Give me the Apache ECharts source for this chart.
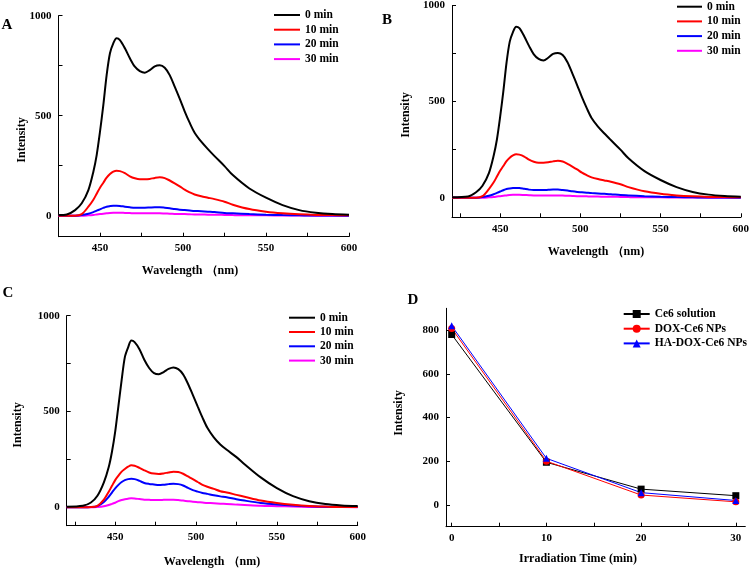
<!DOCTYPE html>
<html>
<head>
<meta charset="utf-8">
<script src="https://cdn.jsdelivr.net/npm/echarts@6/dist/echarts.min.js"></script>
<style>html,body{margin:0;padding:0;background:#fff}#c{width:752px;height:570px}</style>
</head>
<body>
<div id="c"></div>
<script>
// ---- Panel A / B / C wavelength grids (nm) ----
const W_A = [425,430,435,439,443,446,448,450,452,454,456,458,460,462,465,468,471,474,477,480,483,486,489,492,495,498,501,504,507,511,515,519,525,530,540,550,560,570,580,590,600];
const W_B = [420,430,435,439,443,446,448,450,452,454,456,458,460,462,465,468,471,474,477,480,483,486,489,492,495,498,501,504,507,511,515,519,525,530,540,550,560,570,580,590,600];
const W_C = [420,430,435,439,443,446,448,450,452,454,456,458,460,462,465,468,471,474,477,480,483,486,489,492,495,498,501,504,507,511,515,519,525,530,540,550,560,570,580,590,600];

const A_0min  = [3,6,28,62,128,220,303,420,553,703,812,862,887,878,837,787,745,723,715,728,747,752,740,703,645,585,522,465,415,370,333,298,248,203,136,90,53,28,15,8,5];
const A_10min = [0,0,0,8,45,80,110,140,165,190,208,220,225,223,213,197,187,182,182,184,189,192,188,176,162,147,130,117,106,97,90,83,70,55,33,20,12,7,4,3,2];
const A_20min = [0,0,0,3,10,18,25,32,39,45,48,50,50,49,45,42,40,40,40,41,42,42,40,37,33,30,28,26,24,22,20,18,14,12,8,5,3,2,1,1,0];
const A_30min = [0,0,0,0,2,4,6,8,10,12,14,15,15,15,14,13,12,12,12,12,12,12,11,10,9,8,8,7,6,6,5,5,4,3,2,2,1,1,0,0,0];

const B_0min  = [2,6,28,62,128,220,303,420,553,703,812,862,890,882,840,790,746,722,714,728,748,753,742,705,647,586,523,466,415,370,334,300,250,205,138,92,55,30,16,9,5];
const B_10min = [0,0,0,8,45,80,110,140,165,190,208,220,226,224,214,198,187,182,182,184,189,192,188,176,162,147,130,117,106,97,90,83,70,55,33,20,12,7,4,3,2];
const B_20min = [0,0,0,3,10,18,25,32,39,45,48,50,51,50,46,42,40,40,40,41,42,42,40,37,33,30,28,26,24,22,20,18,14,12,8,5,3,2,1,1,0];
const B_30min = [0,0,0,0,2,4,6,8,10,12,14,15,15,15,14,13,12,12,12,12,12,12,11,10,9,8,8,7,6,6,5,5,4,3,2,2,1,1,0,0,0];

const C_0min  = [3,8,25,60,130,210,290,395,530,665,785,835,870,862,825,770,727,700,694,706,722,730,721,694,645,587,527,468,415,365,328,300,262,225,156,100,58,32,17,10,7];
const C_10min = [0,0,1,8,40,81,112,142,165,186,200,212,219,217,206,193,182,176,174,177,182,186,184,175,161,147,132,117,107,96,84,77,65,55,35,22,13,7,4,2,2];
const C_20min = [0,0,1,6,28,55,77,99,117,132,142,147,149,147,138,127,122,119,116,118,121,123,121,114,101,90,82,75,70,63,57,52,42,35,23,15,9,5,3,2,1];
const C_30min = [0,0,0,2,6,12,18,24,32,38,42,45,47,46,43,40,39,38,38,39,40,40,38,35,32,29,27,25,23,21,19,17,14,12,8,6,4,2,1,1,0];

// ---- Panel D ----
const D_time = [0,10,20,30];
const D_ce6  = [780,195,72,42];
const D_dox  = [808,200,45,14];
const D_ha   = [820,213,56,20];

const SPEC_NAMES = ['0 min','10 min','20 min','30 min'];
const SPEC_COLORS = ['#000000','#ff0000','#0000ff','#ff00ff'];
const D_NAMES = ['Ce6 solution','DOX-Ce6 NPs','HA-DOX-Ce6 NPs'];

const FONT = 'Liberation Serif';
const zip = (xs, ys) => xs.map((x,i)=>[x, ys[i]]);

const chart = echarts.init(document.getElementById('c'), null, {renderer:'canvas', width:752, height:570});

const lbl = {fontFamily:FONT, fontWeight:'bold', fontSize:11, color:'#000', formatter:v=>String(v)};
const axLine = {show:true, onZero:false, lineStyle:{color:'#000', width:1}};

function specX(idx, min, max){
  return {type:'value', gridIndex:idx, min, max, axisLine:axLine, splitLine:{show:false},
    axisTick:{show:true, inside:true, length:4, customValues:[425,450,475,500,525,550,575,600], lineStyle:{color:'#000'}},
    axisLabel:Object.assign({customValues:[450,500,550,600], margin:6}, lbl)};
}
function specY(idx, min){
  return {type:'value', gridIndex:idx, min, max:1000, axisLine:axLine, splitLine:{show:false},
    axisTick:{show:true, inside:true, length:4, customValues:[0,250,500,750,1000], lineStyle:{color:'#000'}},
    axisLabel:Object.assign({customValues:[0,500,1000], margin:7}, lbl)};
}

const grids = [
  {left:58.5, width:290.5, top:15.7, height:221},
  {left:452, width:291.7, top:5, height:212.3},
  {left:66.7, width:291, top:315.7, height:210},
  {left:446, width:299.3, top:308.3, height:218.4}
];

const series = [];
const panels = [[W_A,[A_0min,A_10min,A_20min,A_30min]],[W_B,[B_0min,B_10min,B_20min,B_30min]],[W_C,[C_0min,C_10min,C_20min,C_30min]]];
panels.forEach((p, gi) => {
  p[1].forEach((ys, si) => {
    series.push({type:'line', name:SPEC_NAMES[si], xAxisIndex:gi, yAxisIndex:gi, data:zip(p[0], ys),
      symbol:'none', smooth:0.3, lineStyle:{color:SPEC_COLORS[si], width:2}, itemStyle:{color:SPEC_COLORS[si]}, z: 10-si});
  });
});
const dSets = [[D_ce6,'rect','#000000'],[D_dox,'circle','#ff0000'],[D_ha,'triangle','#0000ff']];
dSets.forEach((d,i)=>{
  series.push({type:'line', name:D_NAMES[i], xAxisIndex:3, yAxisIndex:3, data:zip(D_time, d[0]),
    symbol:d[1], symbolSize:7, lineStyle:{color:d[2], width:1}, itemStyle:{color:d[2]}});
});

function specLegend(left, top, gap, w){
  return {orient:'vertical', left, top, padding:0, data:SPEC_NAMES.map(n=>({name:n, icon:'rect'})),
    itemWidth:w, itemHeight:2, itemGap:gap, selectedMode:false,
    textStyle:{fontFamily:FONT, fontWeight:'bold', fontSize:11.5, lineHeight:12, color:'#000'}};
}

function txt(text, x, y, size, rot){
  return {type:'text', x, y, rotation:rot||0,
    style:{text, fontFamily:FONT, fontWeight:'bold', fontSize:size, fill:'#000', align:'center', verticalAlign:'middle'}};
}

const option = {
  backgroundColor:'#fff',
  animation:false,
  grid:grids,
  xAxis:[specX(0,425,600), specX(1,420,600), specX(2,420,600),
    {type:'value', gridIndex:3, min:-0.6, max:31, axisLine:axLine, splitLine:{show:false},
      axisTick:{show:true, inside:true, length:4, customValues:[0,5,10,15,20,25,30], lineStyle:{color:'#000'}},
      axisLabel:Object.assign({customValues:[0,10,20,30], margin:6}, lbl)}],
  yAxis:[specY(0,-105), specY(1,-102), specY(2,-96),
    {type:'value', gridIndex:3, min:-100, max:900, axisLine:axLine, splitLine:{show:false},
      axisTick:{show:true, inside:true, length:4, customValues:[0,200,400,600,800], lineStyle:{color:'#000'}},
      axisLabel:Object.assign({customValues:[0,200,400,600,800], margin:7}, lbl)}],
  legend:[
    specLegend(274, 9, 2.7, 26),
    specLegend(677, 0.7, 2.7, 25),
    specLegend(289, 311.7, 2.3, 26),
    {orient:'vertical', left:622.7, top:308, padding:0, data:D_NAMES, itemWidth:26, itemHeight:10, itemGap:2.7,
      selectedMode:false, textStyle:{fontFamily:FONT, fontWeight:'bold', fontSize:11.5, lineHeight:12, color:'#000'}}
  ],
  graphic:[
    txt('A', 7, 25, 15), txt('B', 387, 20, 15), txt('C', 8, 293, 15), txt('D', 413, 300, 15),
    txt('Intensity', 21.7, 140, 12, Math.PI/2),
    txt('Intensity', 406, 115, 12, Math.PI/2),
    txt('Intensity', 18.3, 425, 12, Math.PI/2),
    txt('Intensity', 398.7, 413, 12, Math.PI/2),
    txt('Wavelength （nm)', 190, 271, 12),
    txt('Wavelength （nm)', 596, 252, 12),
    txt('Wavelength （nm)', 212, 562, 12),
    txt('Irradiation Time (min)', 578, 559, 12)
  ],
  series
};
chart.setOption(option);
</script>
</body>
</html>
